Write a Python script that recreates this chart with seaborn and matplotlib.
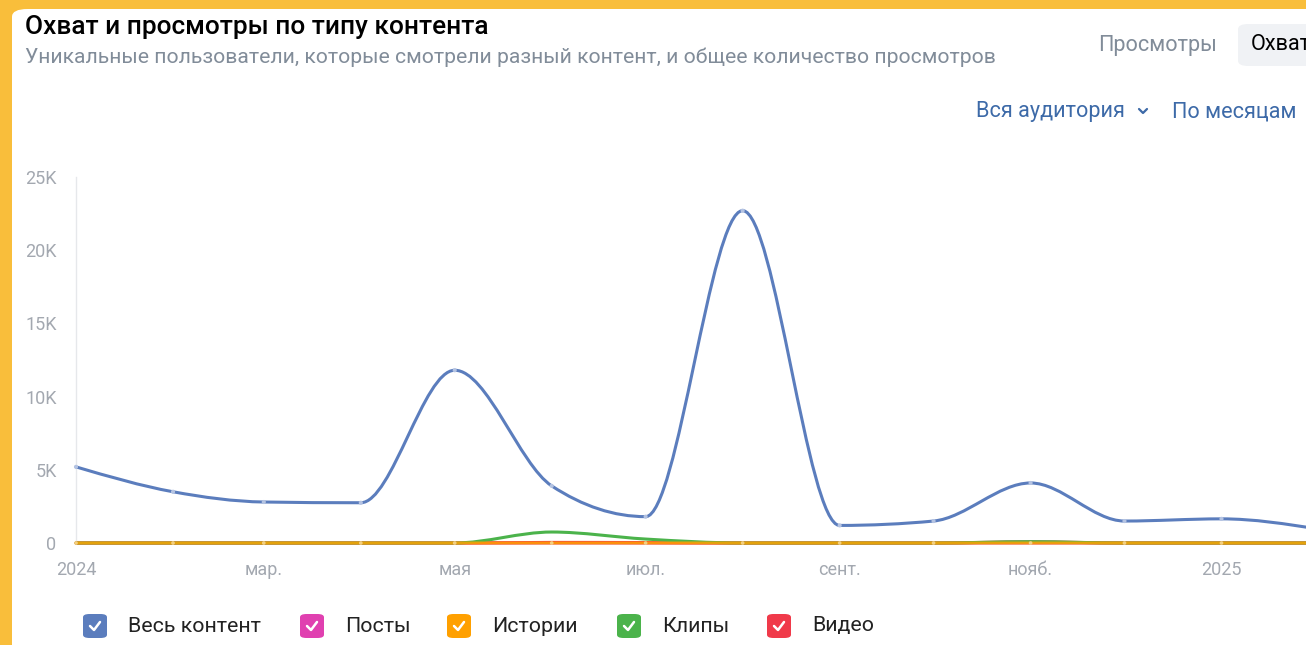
import numpy as np
import pandas as pd
import matplotlib
matplotlib.use("Agg")
import matplotlib.pyplot as plt
import matplotlib.dates as mdates
from matplotlib.path import Path
from matplotlib.patches import PathPatch, FancyBboxPatch
import seaborn as sns

# data
months = pd.date_range("2024-01-01", periods=14, freq="MS")
all_content = [5200, 3500, 2800, 2750, 11800, 3900, 1800, 22700, 1200, 1500, 4100, 1500, 1650, 950]
posts = [0] * 14
stories = [0] * 14
clips = [0, 0, 0, 0, 0, 750, 270, 0, 0, 0, 90, 0, 0, 0]
video = [0, 0, 0, 0, 0, 40, 30, 0, 0, 0, 80, 0, 0, 0]

series_names = ["Весь контент", "Посты", "Истории", "Клипы", "Видео"]
series_colors = ["#5b7dbd", "#e040b0", "#ffa000", "#4bb34b", "#f03a4a"]

tick_dates = pd.to_datetime(["2024-01-01", "2024-03-01", "2024-05-01", "2024-07-01",
                             "2024-09-01", "2024-11-01", "2025-01-01"])
tick_labels = ["2024", "мар.", "мая", "июл.", "сент.", "нояб.", "2025"]
y_ticks = [0, 5000, 10000, 15000, 20000, 25000]
y_labels = ["0", "5K", "10K", "15K", "20K", "25K"]

W, H = 1306, 645
sns.set_style("white")
plt.rcParams["font.family"] = ["Roboto", "DejaVu Sans"]


def fx(x):
    return x / W


def fy(y):
    return 1 - y / H


def monotone_path(x, y):
    # monotone cubic (like d3 curveMonotoneX) as bezier segments
    x = np.asarray(x, float)
    y = np.asarray(y, float)
    h = np.diff(x)
    s = np.diff(y) / h
    n = len(x)
    t = np.zeros(n)
    for i in range(1, n - 1):
        s0, s1 = s[i - 1], s[i]
        p = (s0 * h[i] + s1 * h[i - 1]) / (h[i - 1] + h[i])
        t[i] = (np.sign(s0) + np.sign(s1)) * min(abs(s0), abs(s1), 0.5 * abs(p))
    t[0] = (3 * s[0] - t[1]) / 2
    t[-1] = (3 * s[-1] - t[-2]) / 2
    verts = [(x[0], y[0])]
    codes = [Path.MOVETO]
    for i in range(n - 1):
        dx = h[i] / 3
        verts += [(x[i] + dx, y[i] + dx * t[i]), (x[i + 1] - dx, y[i + 1] - dx * t[i + 1]),
                  (x[i + 1], y[i + 1])]
        codes += [Path.CURVE4] * 3
    return Path(verts, codes)


fig = plt.figure(figsize=(W / 100, H / 100), dpi=100, facecolor="#f9be3b")
panel = FancyBboxPatch((fx(12), fy(700)), fx(1400), fy(9) - fy(700),
                       boxstyle="round,pad=0,rounding_size=0.012",
                       transform=fig.transFigure, facecolor="white", edgecolor="none",
                       zorder=-5)
fig.patches.append(panel)

ax = fig.add_axes([fx(76), fy(543), 1 - fx(76), fy(177) - fy(543)])
ax.set_zorder(2)
ax.set_facecolor("none")

xnum = mdates.date2num(months)
df = pd.DataFrame({"date": months, "Весь контент": all_content, "Посты": posts,
                   "Истории": stories, "Клипы": clips, "Видео": video})

order = ["Посты", "Видео", "Клипы", "Истории", "Весь контент"]
for name in order:
    col = series_colors[series_names.index(name)]
    alpha = 0.85 if name == "Истории" else 1
    patch = PathPatch(monotone_path(xnum, df[name]), facecolor="none", edgecolor=col,
                      lw=2.2, alpha=alpha, clip_on=False, capstyle="round", zorder=3)
    ax.add_patch(patch)
sns.scatterplot(data=df, x="date", y="Весь контент", ax=ax, s=9, color="#b4c3e2",
                edgecolor="none", zorder=4, clip_on=False)
sns.scatterplot(data=df, x="date", y="Истории", ax=ax, s=7, color="#f3cf80",
                edgecolor="none", zorder=4, clip_on=False)

ax.set_xlim(mdates.date2num(pd.Timestamp("2024-01-01")), mdates.date2num(pd.Timestamp("2025-01-28")))
ax.set_ylim(0, 25000)
ax.set_xticks(mdates.date2num(tick_dates))
ax.set_xticklabels(tick_labels)
ax.set_yticks(y_ticks)
ax.set_yticklabels(y_labels)
ax.tick_params(axis="y", length=0, labelsize=13, colors="#a3a8b0", pad=14)
ax.tick_params(axis="x", length=0, labelsize=13, colors="#a3a8b0", pad=13)
ax.set_xlabel("")
ax.set_ylabel("")
for side in ["top", "right", "bottom"]:
    ax.spines[side].set_visible(False)
ax.spines["left"].set_color("#e6e8eb")
ax.spines["left"].set_linewidth(1)

# header texts
fig.text(fx(25), fy(27), "Охват и просмотры по типу контента", fontsize=18.9,
         weight="medium", color="#000000", va="center")
fig.text(fx(25), fy(57), "Уникальные пользователи, которые смотрели разный контент, и общее количество просмотров",
         fontsize=15.2, color="#818c99", va="center")
fig.text(fx(1098), fy(45), "Просмотры", fontsize=15.6, color="#818c99", va="center")
btn = FancyBboxPatch((fx(1238), fy(66)), fx(100), fy(24) - fy(66),
                     boxstyle="round,pad=0,rounding_size=0.008", transform=fig.transFigure,
                     facecolor="#f0f2f5", edgecolor="none")
fig.patches.append(btn)
fig.text(fx(1251), fy(45), "Охват", fontsize=15.6, color="#000000", va="center")
fig.text(fx(976), fy(112), "Вся аудитория", fontsize=15.6, color="#3d6aa8", va="center")
fig.lines.append(plt.Line2D([fx(1139), fx(1143), fx(1147)], [fy(109), fy(113), fy(109)],
                            transform=fig.transFigure, color="#3d6aa8", lw=1.6,
                            solid_capstyle="round", solid_joinstyle="round"))
fig.text(fx(1172), fy(112), "По месяцам", fontsize=15.6, color="#3d6aa8", va="center")

# legend with checkbox squares
legend_x = [95, 312, 459, 629, 779]
for name, col, cx in zip(series_names, series_colors, legend_x):
    box = FancyBboxPatch((fx(cx - 12), fy(638)), fx(24), fy(614) - fy(638),
                         boxstyle="round,pad=0,rounding_size=0.005", transform=fig.transFigure,
                         facecolor=col, edgecolor="none")
    fig.patches.append(box)
    fig.lines.append(plt.Line2D([fx(cx - 5), fx(cx - 1), fx(cx + 5)],
                                [fy(626), fy(630), fy(622)], transform=fig.transFigure,
                                color="white", lw=1.8, solid_capstyle="round",
                                solid_joinstyle="round"))
    fig.text(fx(cx + 33), fy(626), name, fontsize=15.4, color="#222222", va="center")

fig.savefig("out.png", dpi=100, facecolor=fig.get_facecolor())
